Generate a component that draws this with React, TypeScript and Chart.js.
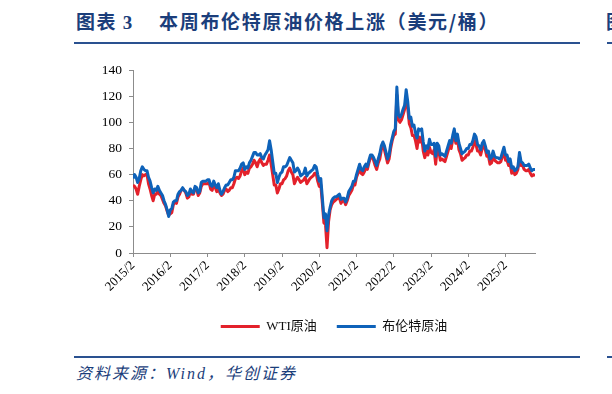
import React, { useEffect, useRef } from "react";
import { Chart, registerables } from "chart.js";

Chart.register(...registerables);

// x-axis tick labels (one per year, February)
const tickLabels = [
  "2015/2", "2016/2", "2017/2", "2018/2", "2019/2", "2020/2",
  "2021/2", "2022/2", "2023/2", "2024/2", "2025/2",
];
const monthsPerTick = 12;
const pointsPerMonth = 2; // semi-monthly readings starting 2015/2

// Brent crude, USD/bbl (two readings per month, from 2015/2)
const brent = [
  57, 60, 58, 54, 57, 63, 66, 64, 63, 63, 58, 55, 50, 46, 49, 48, 51, 48, 46, 44, 40, 37, // 2015
  33, 28, 33, 34, 39, 40, 40, 45, 47, 48, 50, 48, 47, 44, 45, 49, 47, 46, 51, 50, 46, 47, 54, 55, // 2016
  55, 55, 56, 56, 52, 51, 55, 52, 50, 53, 48, 45, 47, 50, 52, 52, 54, 56, 56, 58, 63, 63, 63, 65, // 2017
  68, 69, 64, 66, 65, 69, 71, 74, 77, 77, 75, 75, 76, 73, 72, 75, 77, 79, 86, 79, 70, 61, 61, 54, // 2018
  58, 61, 62, 66, 66, 67, 70, 73, 71, 69, 62, 63, 65, 63, 59, 60, 61, 65, 59, 61, 62, 63, 64, 67, // 2019
  66, 60, 55, 57, 42, 27, 30, 17, 29, 35, 40, 42, 43, 43, 44, 45, 41, 42, 42, 39, 42, 47, 49, 51, // 2020
  55, 55, 60, 64, 68, 64, 63, 66, 68, 66, 71, 75, 75, 73, 70, 67, 72, 76, 82, 85, 82, 77, 72, 75, // 2021
  83, 88, 93, 95, 127, 106, 104, 106, 110, 113, 125, 116, 103, 104, 97, 98, 92, 88, 95, 94, 95, 85, 78, 82, // 2022
  80, 87, 83, 83, 84, 74, 84, 82, 75, 76, 75, 74, 78, 82, 86, 84, 90, 95, 86, 91, 84, 80, 76, 77, // 2023
  78, 80, 80, 83, 83, 86, 91, 89, 83, 82, 79, 84, 86, 82, 77, 78, 72, 73, 78, 74, 73, 73, 72, 73, // 2024
  77, 81, 75, 75, 70, 72, 65, 66, 63, 64, 66, 77, 70, 69, 67, 67, 67, 68, 65, 63, 64, 64, // 2025
];

// WTI crude, USD/bbl (two readings per month, from 2015/2)
const wti = [
  52, 51, 49, 45, 51, 56, 60, 59, 60, 60, 53, 49, 44, 40, 45, 45, 48, 45, 44, 41, 38, 36, // 2015
  32, 29, 30, 31, 37, 39, 38, 43, 45, 48, 49, 48, 46, 42, 43, 47, 45, 45, 50, 49, 44, 46, 51, 53, // 2016
  53, 53, 53, 54, 49, 48, 53, 50, 47, 50, 46, 44, 45, 48, 49, 47, 48, 50, 50, 53, 57, 58, 57, 59, // 2017
  63, 65, 60, 62, 61, 65, 66, 68, 71, 69, 66, 70, 72, 69, 67, 68, 68, 71, 75, 68, 60, 52, 52, 46, // 2018
  49, 53, 53, 56, 57, 59, 63, 65, 62, 60, 53, 56, 58, 56, 54, 55, 56, 58, 53, 55, 57, 58, 59, 61, // 2019
  61, 55, 51, 52, 38, 23, 22, 4, 24, 33, 37, 39, 40, 41, 42, 42, 38, 40, 40, 37, 40, 44, 46, 48, // 2020
  52, 52, 58, 61, 65, 61, 60, 62, 65, 64, 69, 73, 74, 71, 67, 64, 69, 72, 79, 83, 79, 74, 69, 72, // 2021
  80, 86, 90, 91, 121, 102, 100, 102, 106, 110, 119, 111, 99, 96, 90, 90, 86, 80, 89, 85, 89, 78, 73, 78, // 2022
  75, 81, 77, 76, 79, 68, 80, 78, 71, 72, 71, 70, 74, 78, 83, 80, 87, 91, 84, 88, 79, 76, 71, 72, // 2023
  73, 75, 75, 78, 78, 81, 86, 83, 78, 78, 75, 80, 83, 79, 74, 74, 68, 69, 74, 71, 70, 69, 69, 70, // 2024
  74, 77, 71, 71, 67, 68, 61, 63, 60, 61, 64, 74, 67, 67, 64, 63, 63, 64, 61, 59, 60, 59, // 2025
];

const RED = "#E3212B";
const BLUE = "#0E62B9";
const NAVY = "#1B3E7B";
const RULE = "#2A5190";
const AXIS = "#8C8C8C";
const SERIF = "'Liberation Serif', 'Times New Roman', 'Noto Sans CJK SC', serif";
const CJK = "'Noto Sans CJK SC', 'Liberation Serif', serif";

export default function App() {
  const ref = useRef<HTMLCanvasElement | null>(null);

  useEffect(() => {
    if (!ref.current) return;
    const toPts = (arr: number[]) => arr.map((v, i) => ({ x: i / pointsPerMonth, y: v }));
    const chart = new Chart(ref.current, {
      type: "line",
      data: {
        datasets: [
          {
            label: "布伦特原油",
            data: toPts(brent),
            borderColor: BLUE,
            backgroundColor: BLUE,
            borderWidth: 3,
            pointRadius: 0,
            tension: 0,
            borderJoinStyle: "round",
          },
          {
            label: "WTI原油",
            data: toPts(wti),
            borderColor: RED,
            backgroundColor: RED,
            borderWidth: 3,
            pointRadius: 0,
            tension: 0,
            borderJoinStyle: "round",
          },
        ],
      },
      options: {
        responsive: false,
        animation: false,
        layout: { padding: { top: 15, right: 25, left: 0, bottom: 0 } },
        plugins: {
          tooltip: { enabled: false },
          legend: {
            position: "bottom",
            reverse: true,
            fullSize: false,
            labels: {
              boxWidth: 39,
              boxHeight: 3,
              padding: 20,
              color: "#111",
              font: { family: SERIF, size: 13 },
              generateLabels: (c: any) =>
                (Chart.defaults.plugins.legend.labels.generateLabels as any)(c).map((l: any) => ({
                  ...l,
                  lineWidth: 0,
                })),
            },
          },
        },
        scales: {
          x: {
            type: "linear",
            min: 0,
            max: (brent.length - 1) / pointsPerMonth,
            afterBuildTicks: (s: any) => {
              s.ticks = tickLabels.map((_, i) => ({ value: i * monthsPerTick }));
            },
            afterFit: (s: any) => {
              s.height = 47;
            },
            ticks: {
              autoSkip: false,
              maxRotation: 45,
              minRotation: 45,
              padding: 1,
              color: "#000",
              font: { family: SERIF, size: 13 },
              callback: (_v: any, i: number) => tickLabels[i],
            },
            grid: {
              display: true,
              drawOnChartArea: false,
              drawTicks: true,
              tickLength: 4,
              color: AXIS,
            },
            border: { display: true, color: AXIS },
          },
          y: {
            min: 0,
            max: 140,
            afterFit: (s: any) => {
              s.width = 73;
            },
            ticks: {
              stepSize: 20,
              padding: 7,
              color: "#000",
              font: { family: SERIF, size: 13.5 },
            },
            grid: {
              display: true,
              drawOnChartArea: false,
              drawTicks: true,
              tickLength: 4,
              color: AXIS,
            },
            border: { display: true, color: AXIS },
          },
        },
      },
    } as any);
    return () => chart.destroy();
  }, []);

  return (
    <div
      style={{
        position: "fixed",
        left: 0,
        top: 0,
        width: 612,
        height: 394,
        background: "#fff",
        overflow: "hidden",
      }}
    >
      <div
        style={{
          position: "absolute",
          left: 76,
          top: 8,
          lineHeight: "25px",
          fontSize: 19,
          fontWeight: 700,
          color: NAVY,
          fontFamily: CJK,
          whiteSpace: "nowrap",
          letterSpacing: 1.5,
        }}
      >
        图表 <span style={{ fontFamily: SERIF }}>3</span>
      </div>
      <div
        style={{
          position: "absolute",
          left: 159,
          top: 8,
          lineHeight: "25px",
          fontSize: 19,
          fontWeight: 700,
          color: NAVY,
          fontFamily: CJK,
          whiteSpace: "nowrap",
          letterSpacing: 1.7,
        }}
      >
        本周布伦特原油价格上涨（美元/桶）
      </div>
      <div
        style={{
          position: "absolute",
          left: 606,
          top: 8,
          lineHeight: "25px",
          fontSize: 19,
          fontWeight: 700,
          color: NAVY,
          fontFamily: CJK,
          whiteSpace: "nowrap",
        }}
      >
        图表
      </div>
      <div style={{ position: "absolute", left: 74, top: 41.5, width: 506, height: 2.5, background: RULE }} />
      <div style={{ position: "absolute", left: 607, top: 41.5, width: 10, height: 2.5, background: RULE }} />
      <canvas
        ref={ref}
        width={500}
        height={288}
        style={{ position: "absolute", left: 60, top: 55 }}
      />
      <div style={{ position: "absolute", left: 74, top: 355.5, width: 506, height: 2, background: RULE }} />
      <div style={{ position: "absolute", left: 607, top: 355.5, width: 10, height: 2, background: RULE }} />
      <div
        style={{
          position: "absolute",
          left: 76,
          top: 363,
          lineHeight: "22px",
          fontSize: 16,
          fontStyle: "italic",
          color: NAVY,
          fontFamily: SERIF,
          whiteSpace: "nowrap",
          letterSpacing: 2,
        }}
      >
        资料来源：Wind，华创证券
      </div>
    </div>
  );
}
